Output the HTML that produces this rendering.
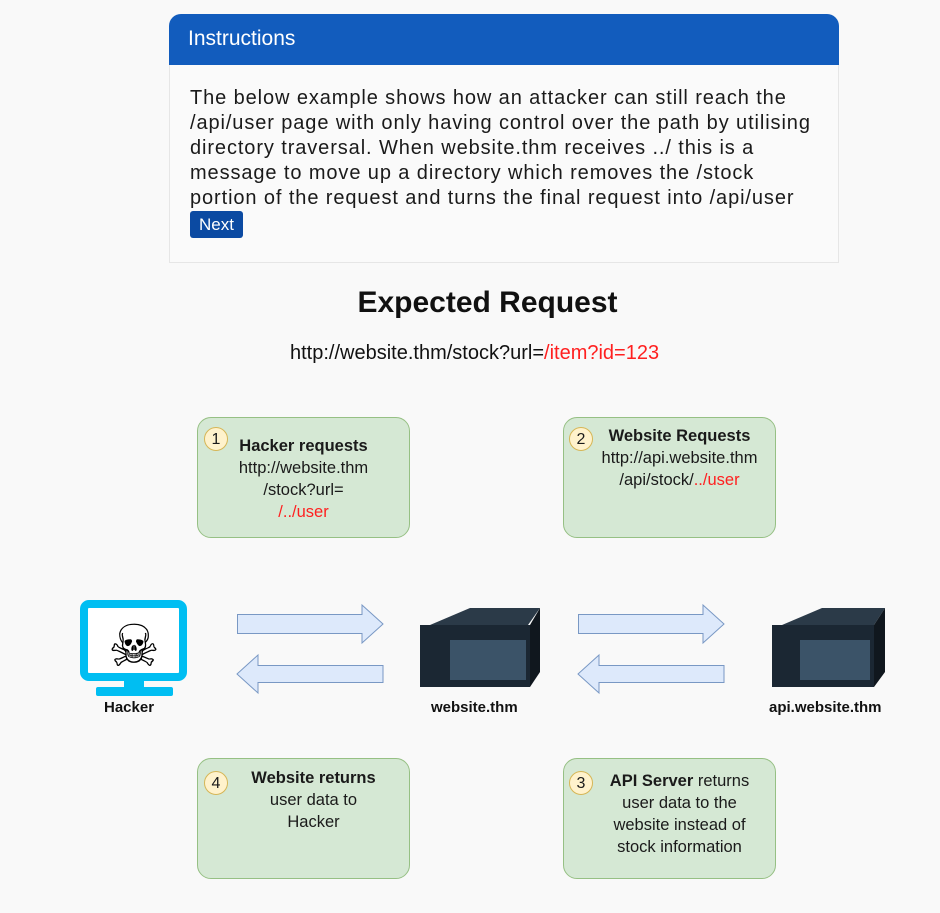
<!DOCTYPE html>
<html><head><meta charset="utf-8"><style>
body{margin:0;width:940px;height:913px;background:#f9f9f9;position:relative;overflow:hidden;font-family:"Liberation Sans",sans-serif;}
.a{position:absolute}
.card{left:169px;top:14px;width:668px;height:247px;border:1px solid #e6e6e6;border-radius:12px 12px 0 0;background:#fafafa;}
.hdr{left:169px;top:14px;width:670px;height:51px;background:#125cbd;border-radius:12px 12px 0 0;color:#fff;font-size:20px;}
.body{left:190px;top:86px;width:660px;font-size:20px;letter-spacing:0.9px;line-height:25px;color:#1a1a1a;white-space:nowrap}
.btn{background:#0b4aa2;color:#fff;border-radius:3px;padding:0 9px;font-size:17px;letter-spacing:0;display:inline-block;height:27px;line-height:27px}
.box{position:absolute;width:213px;height:121px;background:#d5e8d4;border:1px solid #96c084;border-radius:14px;box-sizing:border-box;text-align:center;font-size:16.5px;line-height:22px;color:#1a1a1a}
.num{position:absolute;width:24px;height:24px;border-radius:50%;background:#fff2cc;border:1px solid #d6b656;font-size:16px;line-height:24px;text-align:center;box-sizing:border-box}
.red{color:#ff2020}
.lbl{position:absolute;font-weight:bold;font-size:15px;color:#111}
</style></head><body>
<div class="a card"></div>
<div class="a hdr"><div style="position:absolute;left:19px;top:13px;font-size:21px">Instructions</div></div>
<div class="a body">The below example shows how an attacker can still reach the<br>/api/user page with only having control over the path by utilising<br>directory traversal. When website.thm receives ../ this is a<br>message to move up a directory which removes the /stock<br>portion of the request and turns the final request into /api/user<br><span class="btn">Next</span></div>

<div class="a" style="left:0;width:975px;top:286px;text-align:center;font-weight:bold;font-size:30px;color:#111">Expected Request</div>
<div class="a" style="left:290px;top:342px;font-size:20px;color:#111">http://website.thm/stock?url=<span class="red">/item?id=123</span></div>

<div class="box" style="left:197px;top:417px;padding-top:17px"><b>Hacker requests</b><br>http://website.thm<br>/stock?url=<br><span class="red">/../user</span><div class="num" style="left:6px;top:9px">1</div></div>
<div class="box" style="left:563px;top:417px;padding-top:7px;padding-left:20px"><b>Website Requests</b><br>http://api.website.thm<br>/api/stock/<span class="red">../user</span><div class="num" style="left:5px;top:9px">2</div></div>
<div class="box" style="left:197px;top:758px;padding-top:8px;padding-left:20px"><b>Website returns</b><br>user data to<br>Hacker<div class="num" style="left:6px;top:12px">4</div></div>
<div class="box" style="left:563px;top:758px;padding-top:11px;padding-left:20px"><b>API Server</b> returns<br>user data to the<br>website instead of<br>stock information<div class="num" style="left:5px;top:12px">3</div></div>

<svg class="a" style="left:0;top:590px" width="940" height="130">
<g fill="#dae8fc" stroke="#6c8ebf" stroke-width="1" opacity="0.9">
<path d="M237.5 24.5H362V15L383 34L362 53V43.5H237.5Z"/>
<path d="M383 75.5H258V65L237 84L258 103V92.5H383Z"/>
<path d="M578.5 24.5H703V15L724 34L703 53V43.5H578.5Z"/>
<path d="M724 75.5H599V65L578 84L599 103V92.5H724Z"/>
</g>
<rect x="84" y="14" width="99" height="73" rx="5" fill="#fff" stroke="#00bef2" stroke-width="8"/>
<rect x="124" y="87" width="20" height="10" fill="#00bef2"/>
<rect x="96" y="97" width="77" height="9" rx="2" fill="#00bef2"/>
<text x="134" y="76" font-size="58" text-anchor="middle" font-family="DejaVu Sans">☠</text>
<g>
<path d="M430 35L470 18H540L528 35Z" fill="#2b3a48"/>
<rect x="420" y="35" width="110" height="62" fill="#1b2733"/>
<path d="M530 35L540 18V82L530 97Z" fill="#10171e"/>
<rect x="450" y="50" width="76" height="40" fill="#3b5368"/>
<path d="M782 35L822 18H885L874 35Z" fill="#2b3a48"/>
<rect x="772" y="35" width="102" height="62" fill="#1b2733"/>
<path d="M874 35L885 18V82L874 97Z" fill="#10171e"/>
<rect x="800" y="50" width="70" height="40" fill="#3b5368"/>
</g>
</svg>
<div class="lbl" style="left:104px;top:699px">Hacker</div>
<div class="lbl" style="left:431px;top:699px">website.thm</div>
<div class="lbl" style="left:769px;top:699px">api.website.thm</div>
</body></html>
